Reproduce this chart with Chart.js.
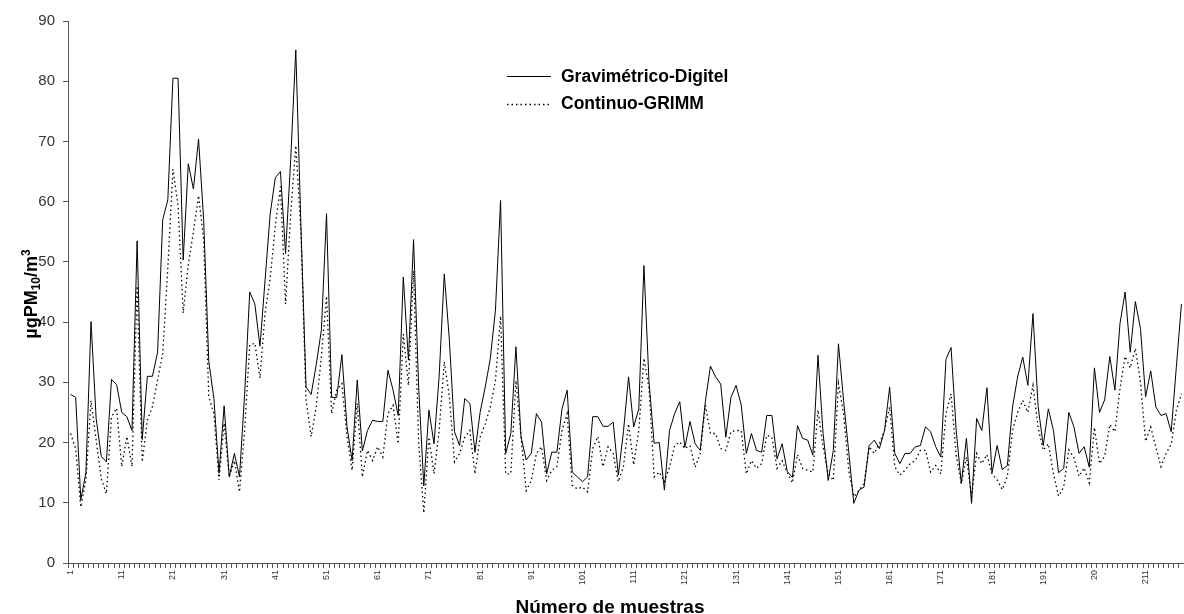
<!DOCTYPE html>
<html>
<head>
<meta charset="utf-8">
<script src="https://cdn.jsdelivr.net/npm/chart.js@4.4.1/dist/chart.umd.min.js"></script>
<style>
  html, body { margin: 0; padding: 0; background: #fff; }
  canvas { display: block; }
</style>
</head>
<body>
<canvas id="pm10" width="1184" height="614"></canvas>
<script>
// sample number 1..218
let samples = []
for (let i = 1; i <= 218; i++) samples.push(String(i))

// labels shown under every 10th sample (201 is cut to "20" in the original)
const xTickLabels = ['1', '11', '21', '31', '41', '51', '61', '71', '81', '91', '101', '111',
    '121', '131', '141', '151', '161', '171', '181', '191', '20', '211']

const gravimetrico = [
    28, 27.5, 10.5, 15, 40.1, 24, 17.7, 16.8, 30.5, 29.6,
    25, 24.3, 22, 53.5, 20.5, 31, 31, 35, 57, 60.3,
    80.5, 80.5, 50.3, 66.3, 62.1, 70.4, 57, 33.5, 27.3, 14.9,
    26.1, 14.3, 18.2, 14.3, 28, 45, 43, 36, 47, 58,
    64, 65, 51.4, 67, 85.2, 56, 29.2, 28, 33, 38.7,
    58, 27.5, 27.5, 34.6, 22.6, 17, 30.4, 18.6, 22, 23.7,
    23.5, 23.5, 32, 28.7, 24.5, 47.5, 33.7, 53.7, 29.2, 12.8,
    25.4, 19.8, 31, 48, 37, 21.8, 19.5, 27.3, 26.5, 18.4,
    25, 29.2, 34, 42, 60.2, 18.2, 21.5, 35.9, 20.9, 17.1,
    18.2, 24.8, 23.4, 14.8, 18.4, 18.4, 25.6, 28.7, 15.1, 14.3,
    13.5, 14.3, 24.3, 24.3, 22.7, 22.7, 23.4, 14.6, 21.8, 30.9,
    22.6, 25.6, 49.4, 30, 19.9, 20, 12.1, 22, 24.8, 26.8,
    19.2, 23.5, 19.8, 18.7, 26.8, 32.7, 30.9, 29.7, 20.9, 27.5,
    29.5, 26.3, 18.2, 21.5, 18.7, 18.4, 24.5, 24.5, 17.3, 19.8,
    15.2, 14.2, 22.8, 20.7, 20.4, 17.9, 34.5, 21.5, 13.7, 18.7,
    36.4, 27, 18.5, 9.9, 12.1, 12.6, 19.5, 20.4, 19, 22,
    29.2, 18.2, 16.5, 18.2, 18.2, 19.3, 19.5, 22.6, 21.8, 19.3,
    17.6, 33.8, 35.8, 22, 13.2, 20.7, 9.9, 24, 22, 29.1,
    15, 19.5, 15.5, 16.2, 25.9, 30.9, 34.2, 29.5, 41.4, 26,
    19.5, 25.6, 22, 15, 15.7, 25, 22.6, 18.2, 19.3, 15.9,
    32.4, 25, 27.1, 34.3, 28.7, 39.8, 45, 35, 43.4, 38.9,
    27.6, 31.9, 25.9, 24.5, 24.8, 21.8, 32.5, 43
]

const continuo = [
    21.5, 19, 9.3, 13.8, 27, 20.4, 14, 11.5, 24.3, 25.7,
    16, 21, 16, 46, 16.8, 23.7, 26, 30.4, 34.8, 49,
    65.4, 59.3, 41.5, 49.6, 55, 61, 53.7, 27.6, 24.8, 13.8,
    23.2, 14.3, 17, 11.8, 22, 36.2, 36.5, 30.7, 41.5, 47.3,
    56, 62.5, 43, 58, 69.3, 55, 27, 21, 26, 34.3,
    44.3, 24.8, 28.7, 29.8, 21, 15.4, 26.5, 14.3, 18.7, 17,
    19.3, 17.6, 24.8, 26.2, 19.8, 38, 29.5, 48.5, 20, 8.3,
    20.9, 14.8, 22, 33.4, 27.6, 16.8, 18.2, 20.9, 22, 14.8,
    20.9, 23.1, 25.9, 30.3, 41, 14.8, 14.8, 30.3, 20.9, 12,
    13.7, 18.2, 19.3, 13.7, 15.4, 16, 22, 24.8, 12.9, 12.3,
    12.6, 11.8, 19, 21, 16, 19.3, 18.2, 13.5, 16, 23.1,
    16.3, 22, 34, 29, 14.3, 15.1, 13.5, 15.9, 19.5, 20.1,
    19, 19.5, 15.9, 18.2, 26.2, 21.5, 21.5, 19, 18.7, 21.8,
    22, 22, 14.8, 17, 15.7, 16.5, 21.2, 20.9, 15.7, 17,
    15, 13.3, 18, 15.7, 15.4, 15.1, 25.4, 19.3, 14.8, 13.7,
    29.8, 24.8, 15.4, 11, 12, 13.2, 19.3, 18.2, 19.8, 22,
    25.9, 16, 14.6, 15.4, 16.5, 17, 18.7, 18.7, 15.1, 16.2,
    14.8, 24.8, 28.1, 17.9, 13.2, 17.6, 11, 18.2, 16.5, 18,
    14.8, 13.8, 12.2, 14.4, 22, 25, 27, 25, 29.5, 22.5,
    18.7, 19.8, 14.8, 11.1, 12.6, 18.8, 17.5, 14.4, 15.8, 13.3,
    22.5, 16.5, 17.7, 23, 21.8, 29, 34.3, 32.4, 35.6, 30,
    20.2, 22.6, 19.2, 16, 18.2, 19.7, 25.3, 28.1
]

const seriesNames = ['Gravimétrico-Digitel', 'Continuo-GRIMM']

const FONT = "'Liberation Sans', Arial, sans-serif"
const DOT_DASH = [1.5, 3]

// titles and the legend box inside the plot
const decorPlugin = {
    id: 'decor',
    afterDraw(chart) {
        let ctx = chart.ctx
        ctx.save()
        ctx.fillStyle = '#000'

        // y title with subscript and superscript
        let parts = [
            { t: 'µgPM', size: 18, dy: 0 },
            { t: '10', size: 12, dy: 3 },
            { t: '/m', size: 18, dy: 0 },
            { t: '3', size: 12, dy: -7 }
        ]
        let total = 0
        for (let p of parts) {
            ctx.font = 'bold ' + p.size + 'px ' + FONT
            p.w = ctx.measureText(p.t).width
            total += p.w
        }
        ctx.translate(37, 294)
        ctx.rotate(-Math.PI / 2)
        ctx.textBaseline = 'alphabetic'
        let x = -total / 2
        for (let p of parts) {
            ctx.font = 'bold ' + p.size + 'px ' + FONT
            ctx.fillText(p.t, x, p.dy)
            x += p.w
        }
        ctx.setTransform(1, 0, 0, 1, 0, 0)

        // x title
        ctx.font = 'bold 19px ' + FONT
        ctx.textAlign = 'center'
        ctx.textBaseline = 'alphabetic'
        ctx.fillText('Número de muestras', 610, 613)

        // legend
        ctx.textAlign = 'left'
        ctx.textBaseline = 'middle'
        ctx.lineWidth = 1
        ctx.strokeStyle = '#000'
        ctx.beginPath()
        ctx.moveTo(507, 76.5)
        ctx.lineTo(551, 76.5)
        ctx.stroke()
        ctx.setLineDash(DOT_DASH)
        ctx.lineWidth = 1.3
        ctx.beginPath()
        ctx.moveTo(507, 104.5)
        ctx.lineTo(551, 104.5)
        ctx.stroke()
        ctx.setLineDash([])
        ctx.font = 'bold 17.5px ' + FONT
        ctx.fillText(seriesNames[0], 561, 77)
        ctx.fillText(seriesNames[1], 561, 104)
        ctx.restore()
    }
}

let ctx = document.getElementById('pm10')

var chart = new Chart(ctx, {
    type: 'line',
    data: {
        labels: samples,
        datasets: [{
            label: seriesNames[0],
            data: gravimetrico,
            borderColor: '#000',
            borderWidth: 1,
            pointRadius: 0,
            tension: 0,
            fill: false
        }, {
            label: seriesNames[1],
            data: continuo,
            borderColor: '#000',
            borderWidth: 1.3,
            borderDash: DOT_DASH,
            pointRadius: 0,
            tension: 0,
            fill: false
        }]
    },
    options: {
        responsive: false,
        animation: false,
        devicePixelRatio: 1,
        layout: { padding: { top: 21, right: 0, left: 0, bottom: 0 } },
        plugins: {
            legend: { display: false },
            tooltip: { enabled: false }
        },
        scales: {
            x: {
                offset: true,
                grid: {
                    offset: true,
                    drawOnChartArea: false,
                    drawTicks: true,
                    tickLength: 5,
                    color: '#555'
                },
                border: { display: true, color: '#555', width: 1 },
                ticks: {
                    autoSkip: false,
                    minRotation: 90,
                    maxRotation: 90,
                    padding: 2,
                    color: '#333',
                    font: { family: FONT, size: 9 },
                    callback: function (value, index) {
                        return index % 10 === 0 ? xTickLabels[index / 10] : ''
                    }
                },
                afterFit: function (scale) {
                    scale.height = 51
                    scale.paddingLeft = 0
                    scale.paddingRight = 0
                }
            },
            y: {
                min: 0,
                max: 90,
                grid: {
                    drawOnChartArea: false,
                    tickLength: 5,
                    color: '#555'
                },
                border: { display: true, color: '#555', width: 1 },
                ticks: {
                    stepSize: 10,
                    padding: 8,
                    color: '#333',
                    font: { family: FONT, size: 15 }
                },
                afterFit: function (scale) { scale.width = 68 }
            }
        }
    },
    plugins: [decorPlugin]
})
</script>
</body>
</html>
